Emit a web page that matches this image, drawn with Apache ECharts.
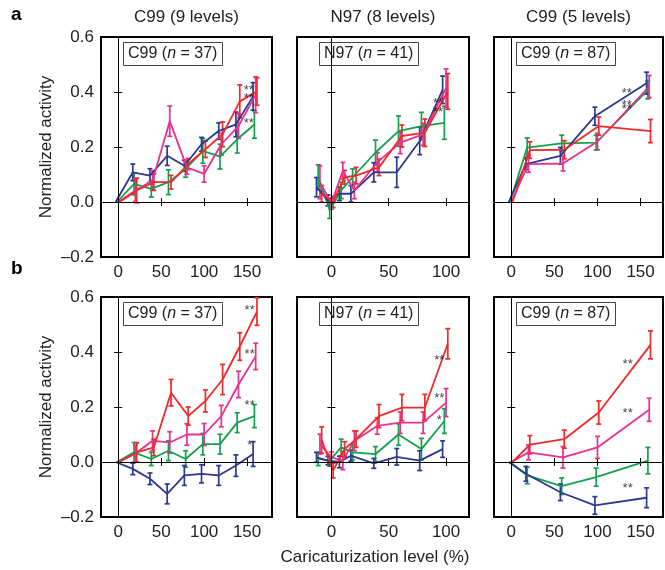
<!DOCTYPE html>
<html>
<head>
<meta charset="utf-8">
<script src="https://cdn.jsdelivr.net/npm/echarts@6/dist/echarts.min.js"></script>
<style>
html,body{margin:0;padding:0;background:#fff;}
#chart{width:665px;height:570px;}
</style>
</head>
<body>
<div id="chart"></div>
<script>
// caricature levels (%)
var levelsC9 = [0, 20, 40, 60, 80, 100, 120, 140, 160];
var levelsN8 = [-10, 0, 10, 20, 40, 60, 80, 100];
var levelsC5 = [0, 20, 60, 100, 160];

// a - C99 (9 levels)
var a1Blue = [0, 0.108, 0.096, 0.168, 0.132, 0.21, 0.258, 0.282, 0.384];
var a1BlueErr = [0, 0.03, 0.025, 0.035, 0.02, 0.025, 0.03, 0.045, 0.05];
var a1Green = [0, 0.066, 0.048, 0.072, 0.12, 0.186, 0.165, 0.228, 0.282];
var a1GreenErr = [0, 0.04, 0.03, 0.045, 0.03, 0.045, 0.045, 0.05, 0.05];
var a1Magenta = [0, 0.042, 0.078, 0.294, 0.126, 0.102, 0.21, 0.276, 0.39];
var a1MagentaErr = [0, 0.04, 0.035, 0.055, 0.025, 0.03, 0.04, 0.045, 0.065];
var a1Red = [0, 0.042, 0.072, 0.072, 0.138, 0.192, 0.246, 0.366, 0.402];
var a1RedErr = [0, 0.045, 0.03, 0.025, 0.02, 0.03, 0.045, 0.06, 0.05];
var a1Stars = [[152, 0.405, '**'], [152, 0.375, '**'], [152, 0.285, '**']];

// a - N97 (8 levels)
var a2Blue = [0.054, 0.006, 0.03, 0.03, 0.108, 0.108, 0.222, 0.408];
var a2BlueErr = [0.035, 0.02, 0.025, 0.03, 0.035, 0.055, 0.05, 0.05];
var a2Green = [0.09, -0.03, 0.042, 0.09, 0.18, 0.258, 0.276, 0.288];
var a2GreenErr = [0.045, 0.03, 0.03, 0.03, 0.045, 0.055, 0.05, 0.06];
var a2Magenta = [0.072, -0.006, 0.114, 0.042, 0.144, 0.216, 0.246, 0.414];
var a2MagentaErr = [0.06, 0.02, 0.03, 0.03, 0.035, 0.04, 0.04, 0.07];
var a2Red = [0.03, 0, 0.09, 0.096, 0.126, 0.24, 0.252, 0.402];
var a2RedErr = [0.03, 0.02, 0.025, 0.03, 0.03, 0.04, 0.05, 0.065];
var a2Stars = [[93, 0.36, '**'], [93, 0.325, '**']];

// a - C99 (5 levels)
var a3Blue = [0, 0.138, 0.168, 0.312, 0.432];
var a3BlueErr = [0, 0.02, 0.03, 0.033, 0.04];
var a3Green = [0, 0.198, 0.213, 0.216, 0.408];
var a3GreenErr = [0, 0.035, 0.03, 0.027, 0.033];
var a3Magenta = [0, 0.138, 0.14, 0.22, 0.42];
var a3MagentaErr = [0, 0.03, 0.027, 0.03, 0.04];
var a3Red = [0, 0.189, 0.19, 0.276, 0.258];
var a3RedErr = [0, 0.03, 0.033, 0.033, 0.042];
var a3Stars = [[134, 0.396, '**'], [134, 0.35, '**'], [134, 0.335, '**']];

// b - C99 (9 levels)
var b1Blue = [0, -0.025, -0.061, -0.116, -0.049, -0.043, -0.049, -0.013, 0.029];
var b1BlueErr = [0, 0.021, 0.021, 0.036, 0.036, 0.033, 0.036, 0.039, 0.045];
var b1Green = [0, 0.035, 0.011, 0.041, 0.011, 0.065, 0.065, 0.143, 0.167];
var b1GreenErr = [0, 0.036, 0.024, 0.036, 0.03, 0.039, 0.036, 0.036, 0.042];
var b1Magenta = [0, 0.031, 0.077, 0.071, 0.1, 0.1, 0.167, 0.282, 0.384];
var b1MagentaErr = [0, 0.03, 0.036, 0.039, 0.039, 0.04, 0.039, 0.048, 0.048];
var b1Red = [0, 0.035, 0.053, 0.252, 0.167, 0.222, 0.3, 0.42, 0.547];
var b1RedErr = [0, 0.035, 0.03, 0.048, 0.033, 0.04, 0.055, 0.05, 0.05];
var b1Stars = [[153, 0.55, '**'], [153, 0.39, '**'], [153, 0.205, '**'], [153, 0.062, '*']];

// b - N97 (8 levels)
var b2Blue = [0.017, 0.005, 0, 0.023, -0.005, 0.019, 0.005, 0.047];
var b2BlueErr = [0.018, 0.015, 0.021, 0.02, 0.018, 0.03, 0.036, 0.03];
var b2Green = [0.011, 0.005, 0.053, 0.035, 0.029, 0.1, 0.047, 0.149];
var b2GreenErr = [0.024, 0.02, 0.03, 0.027, 0.027, 0.039, 0.039, 0.045];
var b2Magenta = [0.065, 0.017, 0.005, 0.077, 0.131, 0.143, 0.143, 0.216];
var b2MagentaErr = [0.036, 0.02, 0.033, 0.036, 0.03, 0.039, 0.039, 0.051];
var b2Red = [0.08, -0.031, 0.047, 0.083, 0.167, 0.198, 0.198, 0.43];
var b2RedErr = [0.048, 0.027, 0.027, 0.03, 0.042, 0.048, 0.048, 0.055];
var b2Stars = [[94, 0.368, '**'], [94, 0.231, '**'], [94, 0.152, '*']];

// b - C99 (5 levels)
var b3Blue = [0, -0.043, -0.11, -0.158, -0.13];
var b3BlueErr = [0, 0.027, 0.03, 0.032, 0.036];
var b3Green = [0, -0.049, -0.088, -0.055, 0.005];
var b3GreenErr = [0, 0.03, 0.03, 0.033, 0.048];
var b3Magenta = [0, 0.035, 0.017, 0.053, 0.19];
var b3MagentaErr = [0, 0.027, 0.039, 0.04, 0.042];
var b3Red = [0, 0.063, 0.083, 0.18, 0.426];
var b3RedErr = [0, 0.033, 0.033, 0.042, 0.051];
var b3Stars = [[135, 0.354, '**'], [135, 0.176, '**'], [135, -0.095, '**']];

var xTicksC = [0, 50, 100, 150];
var xTicksN = [0, 50, 100];

var colors = {blue: '#2b3990', green: '#13a04c', magenta: '#e8318e', red: '#ee2a2a'};
var jitter = {blue: -3, green: -1.5, magenta: 0, red: 1.5};
var font = 'Liberation Sans, Arial, sans-serif';

var panels = [
    {levels: levelsC9, ticks: xTicksC, min: -20, max: 179, left: 101, top: 37, width: 171, label: 'C99', n: 37, title: 'C99 (9 levels)',
        blue: [a1Blue, a1BlueErr], green: [a1Green, a1GreenErr], magenta: [a1Magenta, a1MagentaErr], red: [a1Red, a1RedErr], stars: a1Stars},
    {levels: levelsN8, ticks: xTicksN, min: -30, max: 120, left: 297, top: 37, width: 172, label: 'N97', n: 41, title: 'N97 (8 levels)',
        blue: [a2Blue, a2BlueErr], green: [a2Green, a2GreenErr], magenta: [a2Magenta, a2MagentaErr], red: [a2Red, a2RedErr], stars: a2Stars},
    {levels: levelsC5, ticks: xTicksC, min: -20, max: 176, left: 494, top: 37, width: 169, label: 'C99', n: 87, title: 'C99 (5 levels)',
        blue: [a3Blue, a3BlueErr], green: [a3Green, a3GreenErr], magenta: [a3Magenta, a3MagentaErr], red: [a3Red, a3RedErr], stars: a3Stars},
    {levels: levelsC9, ticks: xTicksC, min: -20, max: 179, left: 101, top: 297, width: 171, label: 'C99', n: 37,
        blue: [b1Blue, b1BlueErr], green: [b1Green, b1GreenErr], magenta: [b1Magenta, b1MagentaErr], red: [b1Red, b1RedErr], stars: b1Stars},
    {levels: levelsN8, ticks: xTicksN, min: -30, max: 120, left: 297, top: 297, width: 172, label: 'N97', n: 41,
        blue: [b2Blue, b2BlueErr], green: [b2Green, b2GreenErr], magenta: [b2Magenta, b2MagentaErr], red: [b2Red, b2RedErr], stars: b2Stars},
    {levels: levelsC5, ticks: xTicksC, min: -20, max: 176, left: 494, top: 297, width: 169, label: 'C99', n: 87,
        blue: [b3Blue, b3BlueErr], green: [b3Green, b3GreenErr], magenta: [b3Magenta, b3MagentaErr], red: [b3Red, b3RedErr], stars: b3Stars}
];

//误差棒
function errorBar(color){
    return function(params, api){
        var x = api.value(0);
        var lo = api.coord([x, api.value(1)]);
        var hi = api.coord([x, api.value(2)]);
        var w = 2.5;
        var st = {stroke: color, lineWidth: 1.7};
        return {
            type: 'group',
            children: [
                {type: 'line', shape: {x1: lo[0], y1: lo[1], x2: hi[0], y2: hi[1]}, style: st},
                {type: 'line', shape: {x1: lo[0] - w, y1: lo[1], x2: lo[0] + w, y2: lo[1]}, style: st},
                {type: 'line', shape: {x1: hi[0] - w, y1: hi[1], x2: hi[0] + w, y2: hi[1]}, style: st}
            ]
        };
    };
}

function yFmt(v){
    return (v < 0 ? '\u2013' : '') + Math.abs(v).toFixed(1);
}

var grid = [], xAxis = [], yAxis = [], series = [], title = [], graphic = [];
var order = ['green', 'blue', 'magenta', 'red'];

panels.forEach(function(p, i){
    var leftCol = (i % 3 === 0);
    grid.push({left: p.left, top: p.top, width: p.width, height: 220, show: true,
        borderColor: '#000', borderWidth: 2, backgroundColor: 'transparent'});
    // bottom + top x axes
    xAxis.push({gridIndex: i, type: 'value', min: p.min, max: p.max, position: 'bottom',
        splitLine: {show: false}, axisLine: {show: false},
        axisTick: {inside: true, length: 4, customValues: p.ticks, lineStyle: {color: '#000'}},
        axisLabel: {customValues: p.ticks, fontSize: 17, color: '#222', margin: 7, fontFamily: font}});
    xAxis.push({gridIndex: i, type: 'value', min: p.min, max: p.max, position: 'top',
        splitLine: {show: false}, axisLine: {show: false}, axisLabel: {show: false},
        axisTick: {inside: true, length: 4, customValues: p.ticks, lineStyle: {color: '#000'}}});
    // left + right y axes
    yAxis.push({gridIndex: i, type: 'value', min: -0.2, max: 0.6, interval: 0.2, position: 'left',
        splitLine: {show: false}, axisLine: {show: false},
        axisTick: {inside: true, length: 4, lineStyle: {color: '#000'}},
        axisLabel: {show: leftCol, formatter: yFmt, fontSize: 17, color: '#222', margin: 7, fontFamily: font},
        name: leftCol ? 'Normalized activity' : '', nameLocation: 'middle', nameGap: 46,
        nameTextStyle: {fontSize: 17, color: '#222', fontFamily: font}});
    yAxis.push({gridIndex: i, type: 'value', min: -0.2, max: 0.6, interval: 0.2, position: 'right',
        splitLine: {show: false}, axisLine: {show: false}, axisLabel: {show: false},
        axisTick: {inside: true, length: 4, lineStyle: {color: '#000'}}});

    var xi = i * 2, yi = i * 2;
    // zero lines
    series.push({type: 'scatter', xAxisIndex: xi, yAxisIndex: yi, data: [], z: 1, silent: true,
        markLine: {silent: true, symbol: ['none', 'none'], label: {show: false}, animation: false,
            lineStyle: {color: '#000', width: 1, type: 'solid'},
            data: [{yAxis: 0}, {xAxis: 0}]}});

    order.forEach(function(c){
        var mean = p[c][0], err = p[c][1];
        var pts = [], bars = [];
        p.levels.forEach(function(x, k){
            pts.push([x + jitter[c], mean[k]]);
            if(err[k] > 0){ bars.push([x + jitter[c], mean[k] - err[k], mean[k] + err[k]]); }
        });
        series.push({type: 'line', xAxisIndex: xi, yAxisIndex: yi, data: pts, showSymbol: false,
            lineStyle: {color: colors[c], width: 1.8}, z: 3});
        series.push({type: 'custom', xAxisIndex: xi, yAxisIndex: yi, data: bars, clip: true,
            renderItem: errorBar(colors[c]), encode: {x: 0, y: [1, 2]}, z: 3});
    });

    series.push({type: 'scatter', xAxisIndex: xi, yAxisIndex: yi, data: p.stars, symbolSize: 1, z: 5,
        itemStyle: {color: 'rgba(0,0,0,0)'},
        label: {show: true, position: 'inside', formatter: function(d){ return d.value[2]; },
            fontSize: 13, color: '#111', fontFamily: font}});

    // C99 (n = 37) box
    title.push({text: p.label + ' ({i|n} = ' + p.n + ')', left: p.left + 22, top: p.top + 5,
        padding: [4, 5], borderColor: '#444', borderWidth: 1,
        textStyle: {fontSize: 16, fontWeight: 'normal', color: '#222', fontFamily: font,
            rich: {i: {fontStyle: 'italic', fontSize: 16, color: '#222', fontFamily: font}}}});
    if(p.title){
        graphic.push({type: 'text', x: p.left + p.width / 2, y: 17,
            style: {text: p.title, fontSize: 17, fill: '#222', fontFamily: font, align: 'center', verticalAlign: 'middle'}});
    }
});

graphic.push({type: 'text', x: 11, y: 15, style: {text: 'a', fontSize: 19, fontWeight: 900, fill: '#000', fontFamily: font, verticalAlign: 'middle'}});
graphic.push({type: 'text', x: 11, y: 269, style: {text: 'b', fontSize: 19, fontWeight: 900, fill: '#000', fontFamily: font, verticalAlign: 'middle'}});
graphic.push({type: 'text', x: 375, y: 557, style: {text: 'Caricaturization level (%)', fontSize: 17, fill: '#222', fontFamily: font, align: 'center', verticalAlign: 'middle'}});

var chart = echarts.init(document.getElementById('chart'));
chart.setOption({
    animation: false,
    backgroundColor: '#fff',
    title: title,
    grid: grid,
    xAxis: xAxis,
    yAxis: yAxis,
    graphic: graphic,
    series: series
});
</script>
</body>
</html>
